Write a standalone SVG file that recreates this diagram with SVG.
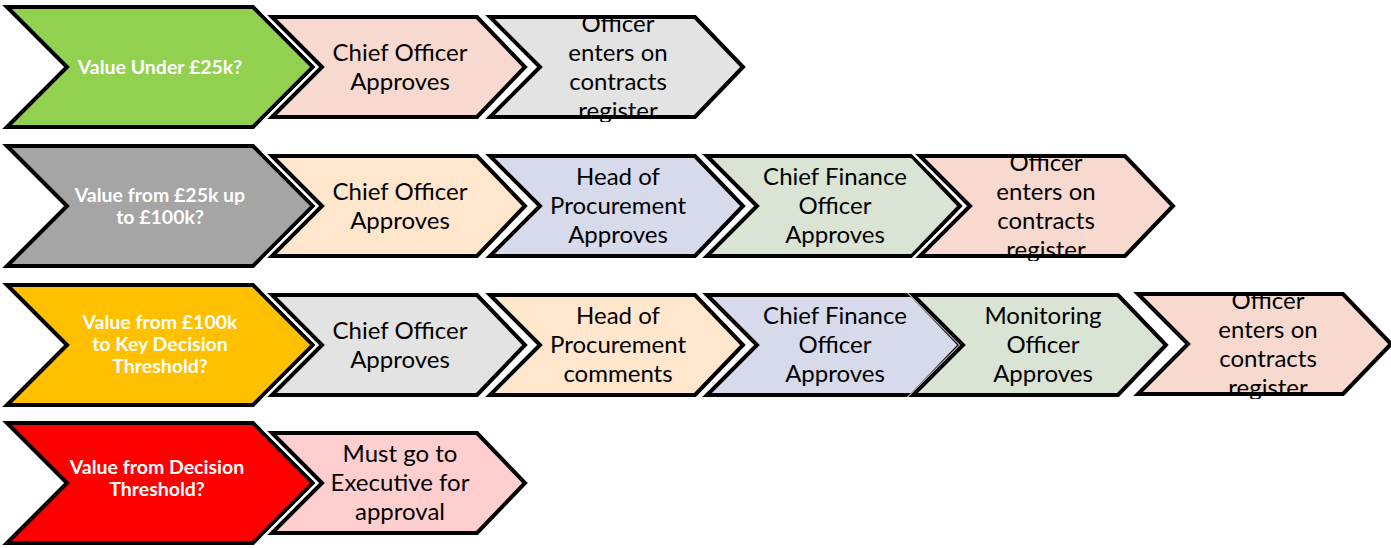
<svg xmlns="http://www.w3.org/2000/svg" xmlns:xlink="http://www.w3.org/1999/xlink" width="1391" height="548" viewBox="0 0 1391 548">
<style>
.halo{fill:#fff;stroke:#fff;stroke-width:9;stroke-linejoin:miter}
.thin{stroke-width:5.5}
.sh{stroke:#000;stroke-width:4;stroke-linejoin:miter}
.green{fill:#92D050}.dgrey{fill:#A5A5A5}.yellow{fill:#FFC000}.red{fill:#FF0000}
.pink{fill:#F8D9CF}.lgrey{fill:#E3E3E3}.peach{fill:#FFE6CD}.lav{fill:#D6DAEB}.lgreen{fill:#D9E4D4}.rose{fill:#FFCFCF}
.q{font-family:Lato,"Liberation Sans",sans-serif;font-weight:bold;font-size:19.5px;fill:#fff;text-anchor:middle}
.t{font-family:Lato,"Liberation Sans",sans-serif;font-size:24px;fill:#000;text-anchor:middle}
</style>
<defs>
<polygon id="lg" points="0,0 246,0 306,60 246,120 0,120 60,60"/>
<polygon id="sm" points="0,0 205,0 253,50 205,100 0,100 50,50"/>
<clipPath id="clip" clipPathUnits="userSpaceOnUse"><rect x="0" y="-1" width="260" height="106"/></clipPath>
</defs>

<g id="row1">
<g id="q1" transform="translate(7,7)"><use href="#lg" class="halo"/><use href="#lg" class="sh green"/>
<text class="q" x="153" y="67">Value Under £25k?</text></g>
<g id="r1a" transform="translate(272,17)"><use href="#sm" class="halo"/><use href="#sm" class="sh pink"/>
<text class="t" x="128" y="44">Chief Officer</text><text class="t" x="128" y="73">Approves</text></g>
<g id="r1b" transform="translate(490,17)"><use href="#sm" class="halo"/><use href="#sm" class="sh lgrey"/>
<g clip-path="url(#clip)"><text class="t" x="128" y="15">Officer</text><text class="t" x="128" y="44">enters on</text><text class="t" x="128" y="73">contracts</text><text class="t" x="128" y="102">register</text></g></g>
</g>

<g id="row2">
<g id="q2" transform="translate(7,146)"><use href="#lg" class="halo"/><use href="#lg" class="sh dgrey"/>
<text class="q" x="153" y="56">Value from £25k up</text><text class="q" x="153" y="78">to £100k?</text></g>
<g id="r2a" transform="translate(272,156)"><use href="#sm" class="halo"/><use href="#sm" class="sh peach"/>
<text class="t" x="128" y="44">Chief Officer</text><text class="t" x="128" y="73">Approves</text></g>
<g id="r2b" transform="translate(490,156)"><use href="#sm" class="halo"/><use href="#sm" class="sh lav"/>
<text class="t" x="128" y="29">Head of</text><text class="t" x="128" y="58">Procurement</text><text class="t" x="128" y="87">Approves</text></g>
<g id="r2c" transform="translate(707,156)"><use href="#sm" class="halo"/><use href="#sm" class="sh lgreen"/>
<text class="t" x="128" y="29">Chief Finance</text><text class="t" x="128" y="58">Officer</text><text class="t" x="128" y="87">Approves</text></g>
<g id="r2d" transform="translate(920,156)"><use href="#sm" class="halo"/><use href="#sm" class="sh pink"/>
<g clip-path="url(#clip)"><text class="t" x="126" y="15">Officer</text><text class="t" x="126" y="44">enters on</text><text class="t" x="126" y="73">contracts</text><text class="t" x="126" y="102">register</text></g></g>
</g>

<g id="row3">
<g id="q3" transform="translate(7,285)"><use href="#lg" class="halo"/><use href="#lg" class="sh yellow"/>
<text class="q" x="153" y="44">Value from £100k</text><text class="q" x="153" y="66">to Key Decision</text><text class="q" x="153" y="88">Threshold?</text></g>
<g id="r3a" transform="translate(272,295)"><use href="#sm" class="halo"/><use href="#sm" class="sh lgrey"/>
<text class="t" x="128" y="44">Chief Officer</text><text class="t" x="128" y="73">Approves</text></g>
<g id="r3b" transform="translate(490,295)"><use href="#sm" class="halo"/><use href="#sm" class="sh peach"/>
<text class="t" x="128" y="29">Head of</text><text class="t" x="128" y="58">Procurement</text><text class="t" x="128" y="87">comments</text></g>
<g id="r3c" transform="translate(707,295)"><use href="#sm" class="halo"/><use href="#sm" class="sh lav"/>
<text class="t" x="128" y="29">Chief Finance</text><text class="t" x="128" y="58">Officer</text><text class="t" x="128" y="87">Approves</text></g>
<g id="r3d" transform="translate(913,295)"><use href="#sm" class="halo thin"/><use href="#sm" class="sh lgreen"/>
<text class="t" x="130" y="29">Monitoring</text><text class="t" x="130" y="58">Officer</text><text class="t" x="130" y="87">Approves</text></g>
<g id="r3e" transform="translate(1138,294)"><use href="#sm" class="halo"/><use href="#sm" class="sh pink"/>
<g clip-path="url(#clip)"><text class="t" x="130" y="15">Officer</text><text class="t" x="130" y="44">enters on</text><text class="t" x="130" y="73">contracts</text><text class="t" x="130" y="102">register</text></g></g>
</g>

<g id="row4">
<g id="q4" transform="translate(7,423)"><use href="#lg" class="halo"/><use href="#lg" class="sh red"/>
<text class="q" x="150" y="51">Value from Decision</text><text class="q" x="150" y="73">Threshold?</text></g>
<g id="r4a" transform="translate(272,433)"><use href="#sm" class="halo"/><use href="#sm" class="sh rose"/>
<text class="t" x="128" y="29">Must go to</text><text class="t" x="128" y="58">Executive for</text><text class="t" x="128" y="87">approval</text></g>
</g>

<g id="connectors"/>
</svg>
